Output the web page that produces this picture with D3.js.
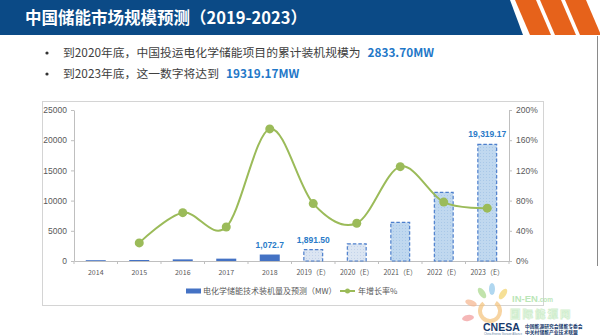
<!DOCTYPE html>
<html>
<head>
<meta charset="utf-8">
<script src="https://cdnjs.cloudflare.com/ajax/libs/d3/7.8.5/d3.min.js"></script>
<style>
  body { margin: 0; background: #fff; }
  svg { display: block; }
</style>
</head>
<body>
<div id="slide"></div>
<script>
"use strict";

// categories and series
var years = ["2014", "2015", "2016", "2017", "2018",
  "2019（E）", "2020（E）", "2021（E）", "2022（E）", "2023（E）"];
var capacity = [133, 165, 270, 390, 1072.7, 1891.50, 2833.70, 6380, 11350, 19319.17];
var growth = [null, 0.24, 0.64, 0.45, 1.75, 0.76, 0.50, 1.25, 0.78, 0.70];
var forecastFrom = "2019（E）";

// value labels shown above some bars, with their decimals
var labelDigits = { "2018": 1, "2019（E）": 2, "2023（E）": 2 };

var leftTicks = [0, 5000, 10000, 15000, 20000, 25000];
var rightTicks = [0, 0.4, 0.8, 1.2, 1.6, 2.0];

var title = "中国储能市场规模预测（2019-2023）";
var bullets = [
  { text: "到2020年底，中国投运电化学储能项目的累计装机规模为", value: "2833.70MW" },
  { text: "到2023年底，这一数字将达到", value: "19319.17MW" }
];
var legendBar = "电化学储能技术装机量及预测（MW）";
var legendLine = "年增长率%";

var W = 600, H = 335;
var CJK = "'Noto Sans CJK SC', 'Noto Sans', sans-serif";
var NUM = "'Liberation Sans', Arial, sans-serif";
var BLUE = "#4472c4";
var GREEN = "#9bbb59";
var TXT = "#595959";

var svg = d3.select("#slide").append("svg")
  .attr("width", W)
  .attr("height", H);

svg.append("rect").attr("width", W).attr("height", H).attr("fill", "#fff");

/* ---------- header band ---------- */
svg.append("path")
  .attr("d", "M0,0 L510,0 L523,35 L0,35 Z")
  .attr("fill", "#0b4a86");

// orange slanted stripes on the right
d3.range(3).forEach(function(i) {
  var x0 = 515 + i * 25;
  svg.append("path")
    .attr("d", "M" + x0 + ",0 L" + (x0 + 21) + ",0 L" + (x0 + 36) + ",35 L" + (x0 + 15) + ",35 Z")
    .attr("fill", "#e6621b");
});

svg.append("text")
  .attr("x", 25)
  .attr("y", 24)
  .attr("font-family", CJK)
  .attr("font-size", 16.5)
  .attr("font-weight", "bold")
  .attr("fill", "#fff")
  .text(title);

/* ---------- bullet lines ---------- */
bullets.forEach(function(b, i) {
  var y = 57 + i * 21;
  svg.append("circle")
    .attr("cx", 47)
    .attr("cy", y - 4)
    .attr("r", 1.6)
    .attr("fill", "#333");
  var t = svg.append("text")
    .attr("x", 63)
    .attr("y", y)
    .attr("font-family", CJK)
    .attr("font-size", 11.8)
    .attr("fill", "#404040");
  t.append("tspan").text(b.text);
  t.append("tspan")
    .attr("dx", 7)
    .attr("font-weight", "bold")
    .attr("fill", "#1f78c8")
    .text(b.value);
});

// thin edge line on the right side of the slide
svg.append("line")
  .attr("x1", 597.5).attr("x2", 597.5)
  .attr("y1", 36).attr("y2", 266)
  .attr("stroke", "#8a8a8a")
  .attr("stroke-width", 1);

/* ---------- chart frame ---------- */
svg.append("rect")
  .attr("x", 42.5).attr("y", 101.5)
  .attr("width", 501).attr("height", 204)
  .attr("fill", "#fff")
  .attr("stroke", "#d4d4d4");

var plot = { left: 74, right: 509, top: 110, bottom: 261 };

var x = d3.scaleBand()
  .domain(years)
  .range([plot.left, plot.right])
  .paddingInner(0.54)
  .paddingOuter(0.27);

var yLeft = d3.scaleLinear().domain([0, 25000]).range([plot.bottom, plot.top]);
var yRight = d3.scaleLinear().domain([0, 2]).range([plot.bottom, plot.top]);

// fills for the forecast bars
var defs = svg.append("defs");
function dotPattern(id, bg, dot) {
  var p = defs.append("pattern")
    .attr("id", id)
    .attr("width", 3).attr("height", 3)
    .attr("patternUnits", "userSpaceOnUse");
  p.append("rect").attr("width", 3).attr("height", 3).attr("fill", bg);
  p.append("rect").attr("width", 1).attr("height", 1).attr("fill", dot);
}
dotPattern("fcLight", "#dbe5f2", "#c3d3ea");
dotPattern("fcBlue", "#c0d8ef", "#a9c8e8");

/* axes */
var axisL = svg.append("g")
  .attr("transform", "translate(" + plot.left + ",0)")
  .call(d3.axisLeft(yLeft).tickValues(leftTicks).tickSizeInner(3).tickSizeOuter(0).tickPadding(4)
    .tickFormat(d3.format("d")));

var axisR = svg.append("g")
  .attr("transform", "translate(" + plot.right + ",0)")
  .call(d3.axisRight(yRight).tickValues(rightTicks).tickSizeInner(3).tickSizeOuter(0).tickPadding(4)
    .tickFormat(d3.format(".0%")));

[axisL, axisR].forEach(function(g) {
  g.selectAll("path, line").attr("stroke", "#bfbfbf");
  g.selectAll("text")
    .attr("font-family", NUM)
    .attr("font-size", 8.5)
    .attr("fill", TXT);
});

var axisB = svg.append("g")
  .attr("transform", "translate(0," + plot.bottom + ")")
  .call(d3.axisBottom(x).tickSize(0).tickPadding(9));
axisB.select(".domain").attr("stroke", "#bfbfbf");
axisB.selectAll("text")
  .attr("font-family", CJK)
  .attr("font-size", 7)
  .attr("fill", TXT);

// tick marks between categories
var step = x.step();
axisB.selectAll(".sep")
  .data(d3.range(years.length + 1))
  .enter()
  .append("line")
  .attr("class", "sep")
  .attr("x1", function(i) { return plot.left + i * step; })
  .attr("x2", function(i) { return plot.left + i * step; })
  .attr("y1", 0)
  .attr("y2", 3)
  .attr("stroke", "#bfbfbf");

/* bars */
var firstForecast = years.indexOf(forecastFrom);
var barData = years.map(function(y, i) {
  return { year: y, value: capacity[i], forecast: i >= firstForecast, idx: i };
});

svg.append("g").selectAll("rect")
  .data(barData)
  .enter()
  .append("rect")
  .attr("x", function(d) { return x(d.year) + (d.forecast ? 0.6 : 0); })
  .attr("width", function(d) { return x.bandwidth() - (d.forecast ? 1.2 : 0); })
  .attr("y", function(d) { return yLeft(d.value); })
  .attr("height", function(d) { return plot.bottom - yLeft(d.value); })
  .attr("fill", function(d) {
    if (!d.forecast) return BLUE;
    return d.idx - firstForecast < 2 ? "url(#fcLight)" : "url(#fcBlue)";
  })
  .attr("stroke", function(d) { return d.forecast ? "#4d7fcc" : "none"; })
  .attr("stroke-width", 1.2)
  .attr("stroke-dasharray", "3.5,2");

/* value labels */
svg.append("g").selectAll("text")
  .data(barData.filter(function(d) { return labelDigits[d.year] !== undefined; }))
  .enter()
  .append("text")
  .attr("x", function(d) { return x(d.year) + x.bandwidth() / 2; })
  .attr("y", function(d) { return yLeft(d.value) - 7; })
  .attr("text-anchor", "middle")
  .attr("font-family", NUM)
  .attr("font-size", 8.5)
  .attr("font-weight", "bold")
  .attr("fill", "#2a7bc8")
  .text(function(d) { return d3.format(",." + labelDigits[d.year] + "f")(d.value); });

/* growth line */
var pts = years.map(function(y, i) { return { year: y, g: growth[i] }; })
  .filter(function(d) { return d.g !== null; });

var line = d3.line()
  .x(function(d) { return x(d.year) + x.bandwidth() / 2; })
  .y(function(d) { return yRight(d.g); })
  .curve(d3.curveCardinal.tension(0));

svg.append("path")
  .datum(pts)
  .attr("d", line)
  .attr("fill", "none")
  .attr("stroke", GREEN)
  .attr("stroke-width", 2);

svg.append("g").selectAll("circle")
  .data(pts)
  .enter()
  .append("circle")
  .attr("cx", function(d) { return x(d.year) + x.bandwidth() / 2; })
  .attr("cy", function(d) { return yRight(d.g); })
  .attr("r", 4.5)
  .attr("fill", GREEN);

/* legend */
var lg = svg.append("g").attr("transform", "translate(0,291)");
lg.append("rect").attr("x", 186).attr("y", -2.5).attr("width", 15).attr("height", 5).attr("fill", BLUE);
lg.append("text")
  .attr("x", 203).attr("y", 3)
  .attr("font-family", CJK).attr("font-size", 8).attr("fill", TXT)
  .text(legendBar);
lg.append("line").attr("x1", 340).attr("x2", 355).attr("y1", 0).attr("y2", 0)
  .attr("stroke", GREEN).attr("stroke-width", 2);
lg.append("circle").attr("cx", 347.5).attr("cy", 0).attr("r", 2.5).attr("fill", GREEN);
lg.append("text")
  .attr("x", 358).attr("y", 3)
  .attr("font-family", CJK).attr("font-size", 8).attr("fill", TXT)
  .text(legendLine);

/* watermark logos in the corner */
var wm = svg.append("g").attr("opacity", 0.7);
var petals = [
  { cx: 492, cy: 289, rx: 3, ry: 6, c: "#8fc7ea", r: 0 },
  { cx: 503, cy: 294, rx: 3, ry: 6, c: "#f3d36b", r: 35 },
  { cx: 482, cy: 293, rx: 3, ry: 6, c: "#a8d88a", r: -35 },
  { cx: 471, cy: 303, rx: 3, ry: 6, c: "#f6b48c", r: -70 },
  { cx: 468, cy: 318, rx: 3, ry: 6, c: "#f19a9a", r: -100 }
];
petals.forEach(function(p) {
  wm.append("ellipse")
    .attr("cx", p.cx).attr("cy", p.cy).attr("rx", p.rx).attr("ry", p.ry)
    .attr("transform", "rotate(" + p.r + "," + p.cx + "," + p.cy + ")")
    .attr("fill", p.c);
});
wm.append("path")
  .attr("d", d3.arc().innerRadius(8).outerRadius(12).startAngle(0.6).endAngle(5.6)())
  .attr("transform", "translate(490,311)")
  .attr("fill", "#f5c27a");
var inen = wm.append("text")
  .attr("x", 512).attr("y", 302)
  .attr("font-family", NUM).attr("font-size", 9.5).attr("font-weight", "bold")
  .attr("fill", "#9fdc9a");
inen.append("tspan").text("IN-EN");
inen.append("tspan").attr("font-size", 6.5).text(".com");
wm.append("text")
  .attr("x", 510).attr("y", 318)
  .attr("font-family", CJK).attr("font-size", 10.5).attr("font-weight", "bold")
  .attr("fill", "none").attr("stroke", "#bfe8bb").attr("stroke-width", 0.8)
  .attr("letter-spacing", 2)
  .text("国际能源网");

svg.append("text")
  .attr("x", 483).attr("y", 331)
  .attr("font-family", NUM).attr("font-size", 10.5).attr("font-weight", "bold")
  .attr("fill", "#17396b")
  .text("CNESA");
svg.append("text")
  .attr("x", 525).attr("y", 327.8)
  .attr("font-family", CJK).attr("font-size", 4.8).attr("font-weight", "bold")
  .attr("fill", "#17396b")
  .text("中国能源研究会储能专委会");
svg.append("text")
  .attr("x", 525).attr("y", 334)
  .attr("font-family", CJK).attr("font-size", 4.8).attr("font-weight", "bold")
  .attr("fill", "#17396b")
  .text("中关村储能产业技术联盟");
svg.append("text")
  .attr("x", 484).attr("y", 334.8)
  .attr("font-family", NUM).attr("font-size", 2.8)
  .attr("fill", "#6d89a8")
  .text("China Energy Storage Alliance");
</script>
</body>
</html>
